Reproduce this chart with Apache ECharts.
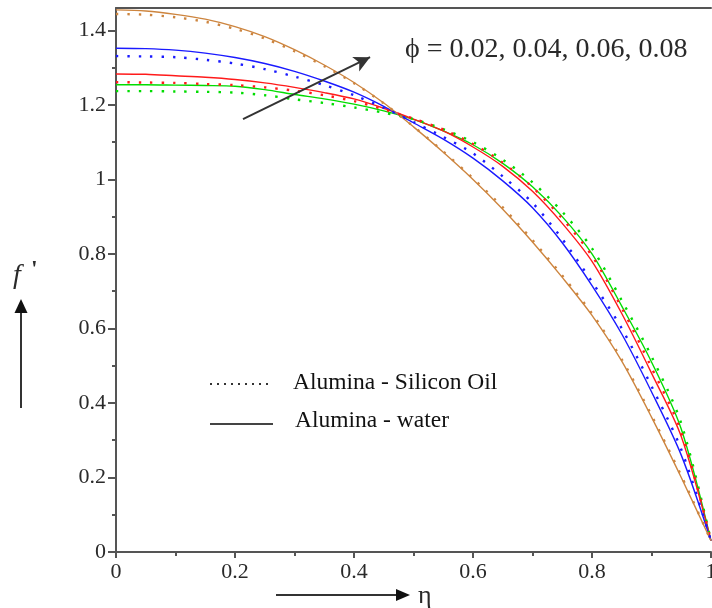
<!DOCTYPE html>
<html><head><meta charset="utf-8">
<script src="https://cdn.jsdelivr.net/npm/echarts@6/dist/echarts.min.js"></script>
<style>html,body{margin:0;padding:0;background:#fff}#c{width:712px;height:608px}</style>
</head><body><div id="c"></div>
<script>
// eta grid
const eta = [0, 0.05, 0.1, 0.15, 0.2, 0.25, 0.3, 0.35, 0.4, 0.45, 0.5, 0.55, 0.6, 0.65, 0.7, 0.75, 0.8, 0.85, 0.9, 0.95, 1];
// Alumina - water (solid)
const water002 = [1.254, 1.254, 1.253, 1.252, 1.250, 1.241, 1.228, 1.216, 1.202, 1.184, 1.161, 1.130, 1.093, 1.043, 0.980, 0.900, 0.800, 0.660, 0.510, 0.330, 0.03];
const water004 = [1.283, 1.282, 1.278, 1.274, 1.268, 1.259, 1.247, 1.233, 1.216, 1.191, 1.162, 1.130, 1.087, 1.035, 0.968, 0.882, 0.780, 0.640, 0.480, 0.310, 0.03];
const water006 = [1.352, 1.351, 1.347, 1.339, 1.327, 1.311, 1.290, 1.264, 1.234, 1.196, 1.152, 1.108, 1.057, 0.996, 0.924, 0.830, 0.715, 0.585, 0.430, 0.260, 0.03];
const water008 = [1.455, 1.452, 1.443, 1.430, 1.410, 1.383, 1.348, 1.307, 1.260, 1.205, 1.141, 1.073, 1.000, 0.920, 0.832, 0.737, 0.635, 0.512, 0.362, 0.200, 0.03];
// Alumina - Silicon Oil (dotted)
const oil002 = [1.237, 1.237, 1.236, 1.235, 1.233, 1.226, 1.215, 1.205, 1.193, 1.179, 1.162, 1.135, 1.100, 1.053, 0.992, 0.913, 0.815, 0.675, 0.525, 0.345, 0.03];
const oil004 = [1.261, 1.260, 1.259, 1.256, 1.253, 1.247, 1.238, 1.226, 1.210, 1.188, 1.163, 1.134, 1.095, 1.045, 0.979, 0.895, 0.795, 0.655, 0.495, 0.322, 0.03];
const oil006 = [1.331, 1.330, 1.328, 1.321, 1.311, 1.296, 1.276, 1.253, 1.226, 1.192, 1.154, 1.114, 1.070, 1.008, 0.937, 0.840, 0.725, 0.600, 0.445, 0.275, 0.03];
const oil008 = [1.444, 1.442, 1.435, 1.423, 1.404, 1.378, 1.344, 1.304, 1.258, 1.204, 1.142, 1.075, 1.003, 0.925, 0.837, 0.742, 0.640, 0.517, 0.367, 0.205, 0.03];
// ticks
const yTickValues = [0, 0.2, 0.4, 0.6, 0.8, 1, 1.2, 1.4];
const yTickLabels = ['0', '0.2', '0.4', '0.6', '0.8', '1', '1.2', '1.4'];
const yMinorValues = [0.1, 0.3, 0.5, 0.7, 0.9, 1.1, 1.3];
const xTickLabels = ['0', '0.2', '0.4', '0.6', '0.8', '1'];
const legendNames = ['Alumina - Silicon Oil', 'Alumina - water'];
const annotationText = 'ϕ = 0.02, 0.04, 0.06, 0.08';

const SERIF = 'Liberation Serif';
const AX = '#555';
const TXT = '#2a2a2a';

function mk(name, vals, color, dotted) {
  return {
    name: name, type: 'line', smooth: 0.3, symbol: 'none', silent: true,
    data: eta.map((e, i) => [e, vals[i]]),
    lineStyle: dotted ? { color: color, width: 2.4, type: [2.4, 9] } : { color: color, width: 1.4 },
    z: dotted ? 3 : 2
  };
}
const cG = '#00dd00', cR = '#ff1a1a', cB = '#1a1aff', cO = '#cd853f';
const series = [
  mk('w002', water002, cG, false), mk('w004', water004, cR, false),
  mk('w006', water006, cB, false), mk('w008', water008, cO, false),
  mk('o002', oil002, cG, true), mk('o004', oil004, cR, true),
  mk('o006', oil006, cB, true), mk('o008', oil008, cO, true)
];
series[0].markLine = {
  silent: true, symbol: ['none', 'arrow'], symbolSize: [12, 16], label: { show: false },
  lineStyle: { color: '#333', width: 2, type: 'solid' },
  data: [[{ coord: [0.2134, 1.162] }, { coord: [0.427, 1.328] }]]
};

const chart = echarts.init(document.getElementById('c'), null, { renderer: 'canvas' });
chart.setOption({
  animation: false,
  backgroundColor: '#fff',
  grid: { left: 116, top: 8, right: 1, bottom: 56, containLabel: false, outerBoundsMode: 'none' },
  xAxis: [{
    type: 'value', min: 0, max: 1, interval: 0.2,
    axisLine: { show: true, onZero: false, lineStyle: { color: AX, width: 2 } },
    axisTick: { show: true, inside: false, length: 6, lineStyle: { color: AX, width: 2 } },
    minorTick: { show: true, splitNumber: 2, length: 4, lineStyle: { color: AX, width: 2 } },
    splitLine: { show: false }, minorSplitLine: { show: false },
    axisLabel: { margin: 9, color: TXT, fontFamily: SERIF, fontSize: 22,
      formatter: v => xTickLabels[Math.round(v * 5)] }
  }, {
    type: 'value', min: 0, max: 1, position: 'top',
    axisLine: { show: true, onZero: false, lineStyle: { color: AX, width: 2 } },
    axisTick: { show: false }, axisLabel: { show: false }, splitLine: { show: false }
  }],
  yAxis: [{
    type: 'value', min: 0, max: 1.46,
    axisLine: { show: true, onZero: false, lineStyle: { color: AX, width: 2 } },
    axisTick: { show: true, length: 8, customValues: yTickValues, lineStyle: { color: AX, width: 2 } },
    splitLine: { show: false },
    axisLabel: { margin: 10, color: TXT, fontFamily: SERIF, fontSize: 22,
      customValues: yTickValues,
      formatter: v => yTickLabels[Math.round(v * 5)] }
  }, {
    type: 'value', min: 0, max: 1.46, position: 'left',
    axisLine: { show: false, onZero: false },
    axisTick: { show: true, length: 4, customValues: yMinorValues, lineStyle: { color: AX, width: 2 } },
    axisLabel: { show: false }, splitLine: { show: false }
  }],
  series: series,
  graphic: [
    // y-axis title arrow
    { type: 'line', silent: true, shape: { x1: 21, y1: 408, x2: 21, y2: 312 }, style: { stroke: '#333', lineWidth: 2 } },
    { type: 'polygon', silent: true, shape: { points: [[21, 299], [14.5, 313], [27.5, 313]] }, style: { fill: '#111' } },
    { type: 'text', silent: true, style: { x: 13, y: 276, text: 'f', fontFamily: SERIF, fontStyle: 'italic', fontSize: 28, fill: TXT, verticalAlign: 'middle' } },
    { type: 'text', silent: true, style: { x: 31, y: 270, text: "'", fontFamily: SERIF, fontSize: 24, fontWeight: 'bold', fill: TXT, verticalAlign: 'middle' } },
    // x-axis title arrow
    { type: 'line', silent: true, shape: { x1: 276, y1: 595, x2: 397, y2: 595 }, style: { stroke: '#333', lineWidth: 2 } },
    { type: 'polygon', silent: true, shape: { points: [[410, 595], [396, 589], [396, 601]] }, style: { fill: '#111' } },
    { type: 'text', silent: true, style: { x: 418, y: 596, text: 'η', fontFamily: SERIF, fontSize: 26, fill: TXT, verticalAlign: 'middle' } },
    // legend
    { type: 'line', silent: true, shape: { x1: 210, y1: 384, x2: 271, y2: 384 }, style: { stroke: '#333', lineWidth: 2, lineDash: [2, 5] } },
    { type: 'text', silent: true, style: { x: 293, y: 383, text: legendNames[0], fontFamily: SERIF, fontSize: 23.5, fill: '#111', verticalAlign: 'middle' } },
    { type: 'line', silent: true, shape: { x1: 210, y1: 424, x2: 273, y2: 424 }, style: { stroke: '#444', lineWidth: 2 } },
    { type: 'text', silent: true, style: { x: 295, y: 421, text: legendNames[1], fontFamily: SERIF, fontSize: 23.5, fill: '#111', verticalAlign: 'middle' } },
    // annotation
    { type: 'text', silent: true, style: { x: 405, y: 50, text: annotationText, fontFamily: SERIF, fontSize: 28, fill: TXT, verticalAlign: 'middle' } }
  ]
});
</script></body></html>
